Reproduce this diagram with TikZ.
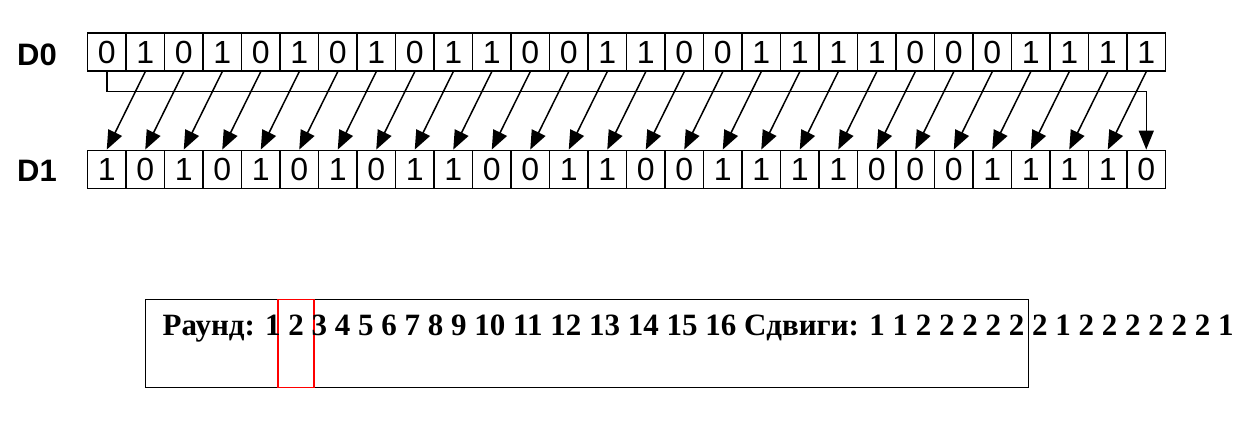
\documentclass[tikz,border=0pt]{standalone}
\usepackage{fontspec}
\setmainfont{Liberation Serif}
\newfontfamily\arialf{Liberation Sans}
\usetikzlibrary{arrows.meta}
\begin{document}
\begin{tikzpicture}[x=1pt,y=-1pt,
  bitcell/.style={draw,line width=1.3pt,minimum width=38.5pt,minimum height=38pt,inner sep=0pt,
    font=\arialf\fontsize{32}{32}\selectfont},
  rowlabel/.style={inner sep=0pt,font=\arialf\bfseries\fontsize{31}{31}\selectfont},
  shiftarrow/.style={line width=1.5pt,-{Triangle[length=19pt,width=15pt]}},
  framebox/.style={draw,line width=1.4pt,inner sep=0pt,anchor=north west},
  markbox/.style={draw=red,line width=1.7pt,inner sep=0pt,anchor=north west},
  infotext/.style={anchor=base west,inner sep=0pt,font=\bfseries\fontsize{31}{31}\selectfont}]
\useasboundingbox (0,0) rectangle (1248,424);
% row labels
\node[rowlabel] (l0) at (37,55) {D0};
\node[rowlabel] (l1) at (37,171) {D1};
% D0 cells
\foreach \b [count=\i from 0] in {0,1,0,1,0,1,0,1,0,1,1,0,0,1,1,0,0,1,1,1,1,0,0,0,1,1,1,1} {
  \node[bitcell] (a\i) at ({106.75+38.5*\i},52) {\b};
}
% D1 cells
\foreach \b [count=\i from 0] in {1,0,1,0,1,0,1,0,1,1,0,0,1,1,0,0,1,1,1,1,0,0,0,1,1,1,1,0} {
  \node[bitcell] (b\i) at ({106.75+38.5*\i},169.25) {\b};
}
% shift arrows
\foreach \i in {1,...,27} {
  \pgfmathtruncatemacro\j{\i-1}
  \draw[shiftarrow] (a\i.south) -- (b\j.north);
}
\draw[shiftarrow] (a0.south) -- ++(0,20) -| (b27.north);
% bottom box
\node[framebox,minimum width=882.7pt,minimum height=88.2pt] (box) at (145,298.5) {};
\node[markbox,minimum width=36pt,minimum height=88.2pt] (mark) at (277,298.5) {};
\node[infotext] (txt) at (162.5,335) {Раунд: 1 2 3 4 5 6 7 8 9 10 11 12 13 14 15 16 Сдвиги: 1 1 2 2 2 2 2 2 1 2 2 2 2 2 2 1};
\end{tikzpicture}
\end{document}
